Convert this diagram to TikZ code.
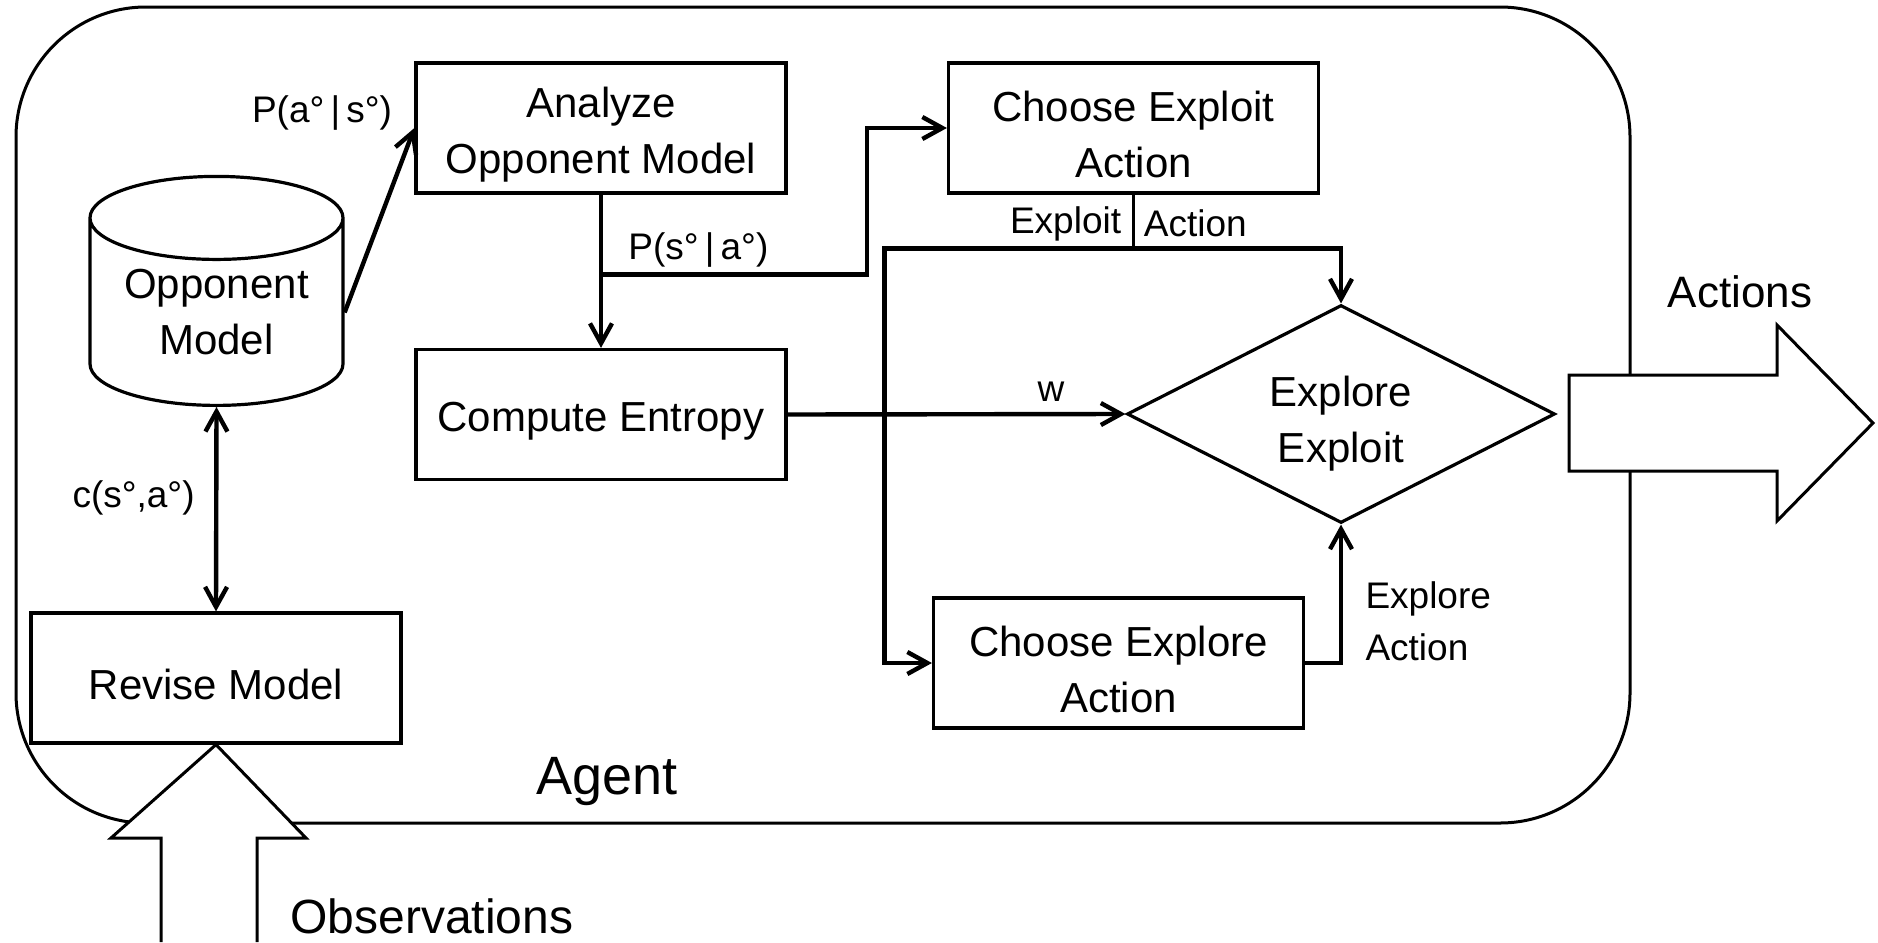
\documentclass[tikz,border=0pt]{standalone}
\usepackage{fontspec}
\setmainfont{Liberation Sans}
\usetikzlibrary{calc}
\usetikzlibrary{arrows.meta}
\usetikzlibrary{shapes.geometric}

\begin{document}
\begin{tikzpicture}[x=.5pt, y=-.5pt, >={Straight Barb[length=10pt, width=11pt]},
  box/.style={draw, line width=1.6pt, minimum width=185pt, minimum height=65pt, inner sep=0pt, align=center, font=\fontsize{21}{28}\selectfont, execute at begin node={\rule{0pt}{21.5pt}}},
  lbl/.style={inner sep=0pt, align=left, font=\fontsize{18.5}{26}\selectfont},
  link/.style={line width=2.2pt, ->},
  fat/.style={line width=1.5pt, fill=white}]
\useasboundingbox (0,0) rectangle (1878,942);
\draw[line width=1.5pt, rounded corners=65pt] (16,7) rectangle (1630,823);

\node[box] (analyze) at (601,128) {\rule{0pt}{21.5pt}Analyze\\Opponent Model};
\node[box] (entropy) at (601,414.5) {Compute Entropy};
\node[box] (exploit) at (1133.5,128) {\rule{0pt}{21.5pt}Choose Exploit\\Action};
\node[box] (explore) at (1118.5,663) {\rule{0pt}{21.5pt}Choose Explore\\Action};
\node[box] (revise) at (216,678) {Revise Model};
\node[box, diamond, aspect=1.96, minimum width=214pt, minimum height=109pt] (decide) at (1341,414) {\rule{0pt}{25pt}Explore\\Exploit};
\node[box, cylinder, shape border rotate=90, aspect=.45, minimum width=126.5pt, minimum height=114.5pt, anchor=south] (opmodel) at (216.5,407) {Opponent\\Model};

\draw[link] (opmodel.east) -- (analyze.west);
\node[lbl, anchor=east] (pas) at ($(analyze.west)+(-22,-15)$) {P(a°\,|\,s°)};

\path (analyze.south) ++(0,80) coordinate (split);
\draw[link] (analyze.south) -- (entropy.north);
\draw[link] (split) -- ++(266,0) |- (exploit.west);
\node[lbl, anchor=west] (psa) at ($(split)+(27,-25)$) {P(s°\,|\,a°)};

\path (exploit.south) ++(0,54) coordinate (fork);
\draw[line width=1.6pt] (exploit.south) -- (fork);
\draw[link] (fork) -| (decide.north);
\draw[link] (fork) -- ++(-249,0) |- (explore.west);
\node[lbl, anchor=east] (exlbl) at ($(fork)+(-12,-25)$) {Exploit};
\node[lbl, anchor=west] (aclbl) at ($(fork)+(10,-25)$) {Action};

\draw[link] (entropy.east) -- node[lbl, pos=.78, above=5pt] (wlbl) {w} (decide.west);
\draw[link] (explore.east) -| (decide.south);
\node[lbl, anchor=west] (exptext) at ($(explore.east)+(60,-42)$) {Explore\\Action};

\draw[line width=2.2pt, <->] (opmodel.south) -- (revise.north);
\node[lbl, anchor=east] (clbl) at ($(revise.north)+(-21,-113)$) {c(s°,a°)};

\filldraw[fat] (161,942) -- (161,838) -- (111,838) -- (revise.south) -- (306,838) -- (257,838) -- (257,942);
\filldraw[fat] (1569,375) -- (1777,375) -- (1777,325) -- (1873,423) -- (1777,521) -- (1777,471) -- (1569,471) -- cycle;

\node[font=\fontsize{27}{30}\selectfont] (agent) at (607,782) {Agent};
\node[font=\fontsize{24}{28}\selectfont] (obs) at (432,916) {Observations};
\node[font=\fontsize{22}{26}\selectfont] (acts) at (1740,292) {Actions};
\end{tikzpicture}
\end{document}
